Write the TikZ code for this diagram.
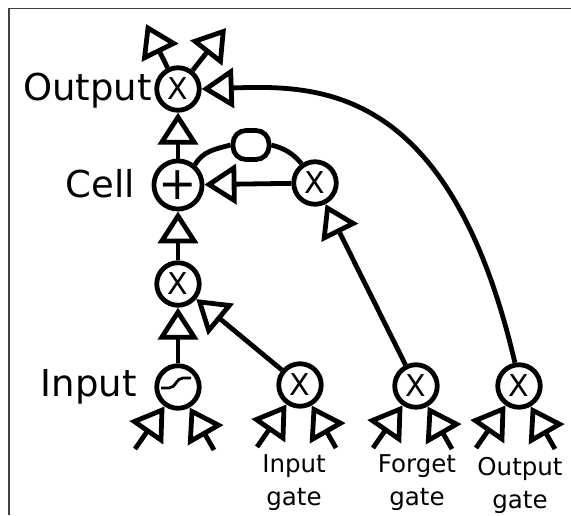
\documentclass[tikz,border=0pt]{standalone}
\usepackage{fontspec}
\setmainfont{DejaVu Sans}
\usetikzlibrary{arrows.meta}
\begin{document}
\begin{tikzpicture}[x=1pt,y=1pt,
  unit/.style={circle, draw, line width=4.8pt, minimum size=42.5pt, inner sep=0pt, font=\fontsize{30}{30}\selectfont},
  arr/.style={line width=4.8pt, -{Triangle[open,length=32pt,width=40pt,fill=white]}},
  wire/.style={line width=4.8pt},
  biglab/.style={font=\fontsize{37}{40}\selectfont, inner sep=0pt},
  smalllab/.style={font=\fontsize{24.5}{32.5}\selectfont, align=center, inner sep=0pt},
]
\useasboundingbox (0,0) rectangle (571,515);
\draw[line width=1.5pt, black!75] (9,0) -- (9,506.5) -- (571,506.5);

\node[unit] (out) at (178,426) {X};
\node[unit, font=\fontsize{46}{46}\selectfont] (cell) at (178,330) {+};
\node[unit] (mid) at (178,231) {X};
\node[unit] (sig) at (178,128) {};
\node[unit] (ig) at (300,130) {X};
\node[unit] (fg) at (416,129) {X};
\node[unit] (og) at (519,129) {X};
\node[unit] (loop) at (315,332) {X};
\node[draw, line width=4.8pt, rounded corners=13pt, minimum width=36pt, minimum height=29pt, inner sep=0pt] (gate) at (251,370) {};

\draw[line width=2.8pt] ([shift={(-17,-1)}]sig.center) -- ++(8,0) .. controls +(7,0) and +(-7,0) .. ++(14,10) -- ++(8,0);

\draw[arr] (sig) -- (mid);
\draw[arr] (mid) -- (cell);
\draw[arr] (cell) -- (out);
\draw[arr] (loop) -- (cell);
\draw[arr] (ig) -- (mid);
\draw[arr] (fg) -- (loop);
\draw[arr] (og.100) .. controls (450,430) and (320,430) .. (out.east);
\draw[wire] (cell.50) to[out=60,in=195] (gate.west);
\draw[wire] (gate.east) to[out=-15,in=130] (loop.125);

\coordinate (o1) at (146,491);
\coordinate (o2) at (226,487);
\draw[arr] (out) -- (o1);
\draw[arr] (out) -- (o2);

\foreach \n in {sig,ig,fg,og}{
  \path (\n.center) ++(-43,-62) coordinate (\n-l);
  \path (\n.center) ++(36,-63) coordinate (\n-r);
  \draw[arr] (\n-l) -- (\n);
  \draw[arr] (\n-r) -- (\n);
}

\node[biglab, anchor=base east] (lout) at (152,414) {Output};
\node[biglab, anchor=base east] (lcell) at (135,317) {Cell};
\node[biglab, anchor=base east] (lin) at (137,118) {Input};
\node[smalllab, anchor=base] (lig) at (294,10) {Input\\gate};
\node[smalllab, anchor=base] (lfg) at (417,10) {Forget\\gate};
\node[smalllab, anchor=base] (log) at (520,7) {Output\\gate};
\end{tikzpicture}
\end{document}
